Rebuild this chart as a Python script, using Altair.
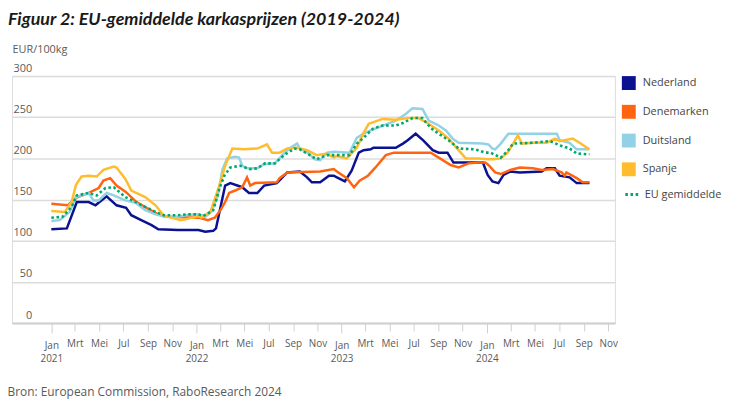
import altair as alt
import pandas as pd

# ---------------- data ----------------
nl_dates = ["2021-01-01", "2021-02-09", "2021-03-06", "2021-04-05", "2021-04-22", "2021-05-20",
            "2021-06-14", "2021-07-08", "2021-07-21", "2021-08-15", "2021-09-10", "2021-09-27",
            "2021-11-15", "2022-01-06", "2022-01-23", "2022-02-12", "2022-02-19", "2022-03-14",
            "2022-03-27", "2022-04-26", "2022-05-13", "2022-06-03", "2022-06-20", "2022-07-22",
            "2022-08-17", "2022-09-18", "2022-10-06", "2022-10-18", "2022-11-08", "2022-11-30",
            "2022-12-12", "2022-12-20", "2023-01-09", "2023-01-26", "2023-02-13", "2023-02-25",
            "2023-03-15", "2023-03-22", "2023-05-17", "2023-06-04", "2023-06-16", "2023-07-06",
            "2023-07-25", "2023-08-18", "2023-09-02", "2023-09-24", "2023-10-09", "2023-12-22",
            "2024-01-03", "2024-01-15", "2024-01-30", "2024-02-12", "2024-02-29", "2024-03-24",
            "2024-05-18", "2024-05-30", "2024-06-20", "2024-07-02", "2024-07-27", "2024-08-14",
            "2024-09-15"]
nl_vals = [114, 115, 147, 147, 143, 154,
           143, 140, 131, 125, 119, 114,
           113, 113, 111, 112, 115, 167,
           170, 165, 158, 158, 167, 170,
           183, 184, 177, 171, 171, 179,
           179, 177, 172, 185, 207, 210,
           211, 213, 213, 218, 222, 230,
           222, 210, 207, 207, 195, 195,
           180, 172, 170, 180, 184, 183,
           184, 188, 188, 179, 177, 170,
           170]

dk_dates = ["2021-01-01", "2021-02-11", "2021-03-04", "2021-04-05", "2021-04-30", "2021-05-12",
            "2021-05-29", "2021-06-14", "2021-07-08", "2021-08-03", "2021-08-28", "2021-09-27",
            "2021-10-14", "2022-01-06", "2022-01-30", "2022-02-16", "2022-03-02", "2022-03-14",
            "2022-03-24", "2022-04-08", "2022-04-26", "2022-05-08", "2022-05-16", "2022-05-28",
            "2022-07-22", "2022-07-29", "2022-08-17", "2022-11-08", "2022-12-12", "2022-12-20",
            "2023-01-14", "2023-02-01", "2023-02-15", "2023-03-08", "2023-03-27", "2023-04-22",
            "2023-05-12", "2023-08-13", "2023-09-02", "2023-10-02", "2023-10-22", "2023-11-16",
            "2023-12-11", "2023-12-28", "2024-01-05", "2024-01-22", "2024-02-05", "2024-02-29",
            "2024-03-24", "2024-04-26", "2024-05-18", "2024-06-15", "2024-07-07", "2024-07-15",
            "2024-07-19", "2024-08-14", "2024-08-29", "2024-09-15"]
dk_vals = [145, 143, 152, 158, 164, 173,
           176, 167, 159, 147, 140, 132,
           129, 128, 125, 128, 137, 147,
           158, 161, 165, 177, 167, 170,
           171, 176, 183, 184, 187, 184,
           176, 165, 173, 179, 189, 204,
           207, 207, 201, 192, 189, 194,
           195, 195, 192, 183, 181, 186,
           189, 188, 186, 187, 183, 179,
           183, 176, 171, 171]

de_dates = ["2021-01-01", "2021-01-22", "2021-02-16", "2021-03-04", "2021-04-05", "2021-04-17",
            "2021-04-30", "2021-05-20", "2021-06-07", "2021-07-06", "2021-08-01", "2021-08-25",
            "2021-09-20", "2021-10-14", "2021-11-16", "2021-12-04", "2022-01-06", "2022-01-23",
            "2022-02-07", "2022-02-24", "2022-03-07", "2022-03-19", "2022-04-08", "2022-04-18",
            "2022-04-26", "2022-05-08", "2022-06-03", "2022-06-20", "2022-07-17", "2022-08-09",
            "2022-08-22", "2022-09-11", "2022-09-18", "2022-10-10", "2022-10-25", "2022-11-08",
            "2022-11-25", "2022-12-14", "2023-01-21", "2023-02-08", "2023-02-25", "2023-03-15",
            "2023-05-17", "2023-06-11", "2023-06-28", "2023-07-23", "2023-08-08", "2023-09-02",
            "2023-09-20", "2023-10-07", "2023-10-22", "2023-12-21", "2024-01-05", "2024-01-15",
            "2024-01-22", "2024-02-05", "2024-02-24", "2024-06-25", "2024-07-02", "2024-07-27",
            "2024-08-14", "2024-09-15"]
de_vals = [124, 125, 135, 153, 158, 149,
           149, 158, 155, 149, 146, 137,
           132, 129, 129, 131, 132, 129,
           135, 155, 186, 200, 202, 201,
           191, 188, 188, 193, 194, 206,
           212, 218, 212, 206, 199, 198,
           207, 208, 207, 225, 230, 234,
           246, 254, 261, 260, 246, 240,
           234, 224, 219, 218, 217, 212,
           211, 218, 230, 230, 222, 219,
           211, 211]

es_dates = ["2021-01-01", "2021-02-04", "2021-02-21", "2021-03-04", "2021-03-18", "2021-04-05",
            "2021-04-25", "2021-05-12", "2021-06-07", "2021-06-14", "2021-07-06", "2021-07-21",
            "2021-08-25", "2021-09-20", "2021-10-10", "2021-10-29", "2021-11-23", "2021-12-23",
            "2022-01-06", "2022-01-13", "2022-02-05", "2022-02-19", "2022-03-02", "2022-03-14",
            "2022-04-01", "2022-05-01", "2022-06-03", "2022-06-27", "2022-07-10", "2022-07-29",
            "2022-08-17", "2022-09-11", "2022-10-06", "2022-10-30", "2022-11-25", "2022-12-12",
            "2022-12-20", "2023-01-14", "2023-02-08", "2023-02-25", "2023-03-10", "2023-04-14",
            "2023-05-17", "2023-06-16", "2023-07-13", "2023-08-05", "2023-09-02", "2023-09-27",
            "2023-10-22", "2023-11-09", "2023-12-11", "2024-01-05", "2024-01-18", "2024-02-05",
            "2024-02-22", "2024-03-07", "2024-03-19", "2024-03-29", "2024-04-26", "2024-05-30",
            "2024-06-20", "2024-07-02", "2024-08-04", "2024-08-21", "2024-09-15"]
es_vals = [136, 135, 147, 168, 178, 179,
           178, 186, 190, 189, 175, 161,
           153, 143, 131, 128, 125, 128,
           130, 128, 135, 155, 171, 191,
           212, 211, 212, 217, 207, 207,
           212, 213, 210, 204, 206, 201,
           203, 200, 213, 231, 242, 248,
           247, 249, 249, 243, 234, 224,
           210, 200, 200, 199, 199, 200,
           207, 218, 228, 218, 219, 219,
           224, 221, 224, 219, 211]

eu_dates = ["2021-01-01", "2021-01-29", "2021-02-21", "2021-03-06", "2021-04-05", "2021-04-25",
            "2021-05-17", "2021-06-07", "2021-07-06", "2021-08-01", "2021-08-25", "2021-09-20",
            "2021-10-10", "2021-11-16", "2021-12-06", "2022-01-06", "2022-01-18", "2022-02-12",
            "2022-02-28", "2022-03-12", "2022-03-27", "2022-04-21", "2022-05-16", "2022-06-03",
            "2022-06-22", "2022-07-17", "2022-08-09", "2022-09-04", "2022-09-18", "2022-10-13",
            "2022-10-30", "2022-11-25", "2023-01-21", "2023-02-08", "2023-02-25", "2023-03-20",
            "2023-04-14", "2023-05-17", "2023-06-04", "2023-06-28", "2023-07-23", "2023-08-13",
            "2023-09-02", "2023-09-27", "2023-10-22", "2023-12-03", "2023-12-28", "2024-01-10",
            "2024-02-05", "2024-02-24", "2024-03-07", "2024-04-26", "2024-06-08", "2024-07-02",
            "2024-07-27", "2024-08-14", "2024-09-08", "2024-09-15"]
eu_vals = [128, 129, 141, 155, 158, 155,
           164, 165, 153, 147, 141, 135,
           131, 131, 132, 132, 130, 137,
           164, 179, 189, 191, 187, 188,
           194, 194, 204, 212, 211, 204,
           199, 204, 204, 218, 225, 236,
           240, 240, 243, 249, 249, 237,
           230, 222, 212, 211, 207, 207,
           201, 210, 218, 219, 221, 216,
           212, 206, 205, 205]

countries = ["Nederland", "Denemarken", "Duitsland", "Spanje"]
colors = ["#0a128f", "#ff6510", "#93d2e6", "#ffbd2e"]
eu_name = "EU gemiddelde"
eu_color = "#00a86b"

month_names = ["Jan", "Feb", "Mrt", "Apr", "Mei", "Jun", "Jul", "Aug", "Sep", "Okt", "Nov", "Dec"]
y_ticks = [0, 50, 100, 150, 200, 250, 300]

# ---------------- build table ----------------
rows = []
for name, d, v in [("Nederland", nl_dates, nl_vals), ("Denemarken", dk_dates, dk_vals),
                   ("Duitsland", de_dates, de_vals), ("Spanje", es_dates, es_vals),
                   (eu_name, eu_dates, eu_vals)]:
    for di, vi in zip(d, v):
        rows.append({"serie": name, "datum": di, "prijs": vi})
df = pd.DataFrame(rows)
df["datum"] = pd.to_datetime(df["datum"])

tick_vals = [alt.DateTime(year=y, month=m, date=1) for y in range(2021, 2025) for m in (1, 3, 5, 7, 9, 11)]
names_js = "[" + ",".join("'%s'" % m for m in month_names) + "]"
label_expr = ("month(datum.value) == 0 ? ['Jan', '' + year(datum.value)] : "
              + names_js + "[month(datum.value)]")

FONT = "Open Sans"
GREY = "#5a5a5a"
LEG_FONT = 11

x_enc = alt.X(
    "datum:T",
    scale=alt.Scale(domain=[alt.DateTime(year=2020, month=9, date=24),
                            alt.DateTime(year=2024, month=11, date=18)]),
    axis=alt.Axis(
        values=tick_vals, labelExpr=label_expr, grid=False,
        domainColor="#cfcfcf", domainWidth=2,
        tickColor="#cfcfcf", tickWidth=1,
        tickSize={"condition": {"test": "month(datum.value) == 0", "value": 10}, "value": 8},
        labelFont=FONT, labelFontSize=10, labelColor=GREY, labelPadding=8,
        labelLineHeight=12.5, labelOverlap=False, labelFlush=False,
        title="Bron: European Commission, RaboResearch 2024",
        titleFont=FONT, titleFontSize=12, titleFontWeight="normal", titleColor=GREY,
        titleAnchor="start", titleAlign="left", titleBaseline="middle",
        titleX=-5, titleY=69,
    ),
)

y_enc = alt.Y(
    "prijs:Q",
    scale=alt.Scale(domain=[0, 300]),
    axis=alt.Axis(
        values=y_ticks, domain=False, ticks=False, tickSize=0,
        gridColor="#dcdcdc", gridWidth=1.5,
        labelFont=FONT, labelFontSize=11, labelColor=GREY,
        labelAlign="right", labelBaseline="bottom", labelPadding=-20, labelOffset=-3,
        title="EUR/100kg", titleFont=FONT, titleFontSize=11, titleFontWeight="normal",
        titleColor=GREY, titleAngle=0, titleAlign="left", titleBaseline="middle",
        titleX=0, titleY=-27,
    ),
)

country_legend = alt.Legend(
    title=None, orient="right", symbolType="square", symbolSize=196,
    symbolStrokeWidth=0, labelFont=FONT, labelFontSize=LEG_FONT, labelColor="#444444",
    rowPadding=15, offset=7, labelOffset=7,
)
color_enc = alt.Color("serie:N", scale=alt.Scale(domain=countries, range=colors),
                      legend=country_legend)

# an empty square layer that only supplies the filled square legend symbols
legend_squares = alt.Chart(df).transform_filter("datum.prijs < 0").mark_square(
    size=196, opacity=1
).encode(x=x_enc, y=y_enc, color=color_enc)

country_lines = alt.Chart(df[df["serie"] != eu_name]).mark_line(strokeWidth=2.5).encode(
    x=x_enc, y=y_enc, color=color_enc,
)

eu_line = alt.Chart(df[df["serie"] == eu_name]).mark_line(strokeWidth=2.6, color=eu_color).encode(
    x=x_enc, y=y_enc,
    strokeDash=alt.StrokeDash(
        "serie:N",
        scale=alt.Scale(domain=[eu_name], range=[[2.6, 2.6]]),
        legend=alt.Legend(
            title=None, orient="right", symbolType="stroke", symbolSize=196,
            symbolStrokeColor=eu_color, symbolStrokeWidth=3,
            labelFont=FONT, labelFontSize=LEG_FONT, labelColor="#444444",
            offset=5, padding=2, labelOffset=4,
        ),
    ),
)

chart = alt.layer(legend_squares, country_lines, eu_line).properties(
    width=608, height=249,
    autosize=alt.AutoSizeParams(type="none"),
    padding={"left": 4, "top": 67, "right": 110, "bottom": 82},
    title=alt.TitleParams(
        "Figuur 2: EU-gemiddelde karkasprijzen (2019-2024)", anchor="start", frame="group",
        font="Lato", fontSize=18, fontStyle="italic", fontWeight="bold",
        color="#1a1a1a", dx=-4, offset=15,
    ),
).configure_view(stroke=None).configure(background="white")

chart.save("out.html", embed_options={"renderer": "svg", "actions": False})
